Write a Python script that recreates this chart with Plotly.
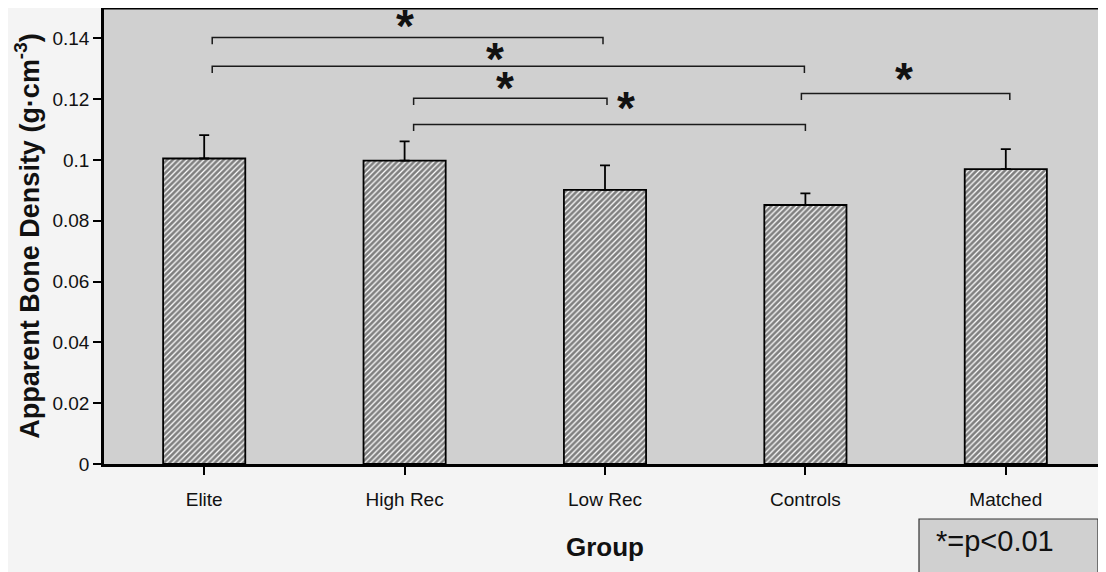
import plotly.graph_objects as go

groups = ["Elite", "High Rec", "Low Rec", "Controls", "Matched"]
density = [0.1005, 0.0998, 0.0902, 0.0852, 0.0970]
sd_upper = [0.0077, 0.0063, 0.0080, 0.0038, 0.0066]

# significance comparisons: (from group index, to group index, bracket level)
comparisons = [(0, 2, 0.1403), (0, 3, 0.1308), (1, 2, 0.1203), (1, 3, 0.1117), (3, 4, 0.1219)]
star_pos = [(1.003, 0.1459), (1.452, 0.1352), (1.502, 0.1255), (2.106, 0.1190), (3.493, 0.1285)]
bracket_offsets = [(0.04, -0.01), (0.04, -0.005), (0.045, 0.01), (0.045, 0.0), (-0.02, 0.02)]

ytick_vals = [0, 0.02, 0.04, 0.06, 0.08, 0.1, 0.12, 0.14]
ytick_text = ["0", "0.02", "0.04", "0.06", "0.08", "0.1", "0.12", "0.14"]

FONT = "Liberation Sans, Arial, sans-serif"

# page offset of the body margin (8px) is compensated in the margins
L, T, R = 96, 0, 8
W, H = 1106, 572
PLOT_BOTTOM = 456
B = H - PLOT_BOTTOM
PW = W - L - R
PH = PLOT_BOTTOM - T


def px_to_paper(sx, sy):
    fx, fy = sx - 8, sy - 8
    return (fx - L) / PW, (PLOT_BOTTOM - fy) / PH


fig = go.Figure()
fig.add_trace(go.Bar(
    x=list(range(len(groups))), y=density, width=0.41,
    marker=dict(color="white", line=dict(color="black", width=1.8),
                pattern=dict(shape="/", fgcolor="black", bgcolor="white", size=4, solidity=0.68)),
    error_y=dict(type="data", array=sd_upper, arrayminus=[0] * len(groups), symmetric=False,
                 color="black", thickness=1.8, width=5),
    showlegend=False, hoverinfo="skip",
))

tick_drop = 0.0022
for (a, b, lvl), (oa, ob) in zip(comparisons, bracket_offsets):
    xa, xb = a + oa, b + ob
    fig.add_trace(go.Scatter(
        x=[xa, xa, xb, xb], y=[lvl - tick_drop, lvl, lvl, lvl - tick_drop],
        mode="lines", line=dict(color="#1a1a1a", width=1.5),
        showlegend=False, hoverinfo="skip",
    ))

for sx, sy in star_pos:
    fig.add_annotation(x=sx, y=sy, text="<b>*</b>", showarrow=False,
                       font=dict(family=FONT, size=46, color="#111111"),
                       yanchor="middle", yshift=-6)

# significance key box
bx0, by0 = px_to_paper(919, 519)
bx1, by1 = px_to_paper(1098, 585)
tx, ty = px_to_paper(995, 541)
fig.add_annotation(xref="paper", yref="paper", x=tx, y=ty, text="*=p<0.01", showarrow=False,
                   font=dict(family=FONT, size=29, color="#111111"),
                   xanchor="center", yanchor="middle")

fig.update_layout(
    width=W, height=H,
    margin=dict(l=L, r=R, t=T, b=B),
    paper_bgcolor="#f4f4f4", plot_bgcolor="#d0d0d0",
    font=dict(family=FONT, color="#111111"),
    xaxis=dict(
        range=[-0.5, 4.5], tickmode="array", tickvals=list(range(len(groups))), ticktext=groups,
        tickson="boundaries", ticks="outside", ticklen=8, tickwidth=1.5, tickcolor="black",
        showline=True, linecolor="black", linewidth=3, mirror=False,
        showgrid=False, zeroline=False, ticklabelstandoff=8,
        tickfont=dict(size=19, family=FONT),
        title=dict(text="<b>Group</b>", font=dict(size=26, family=FONT), standoff=30),
    ),
    yaxis=dict(
        range=[0, 0.15], tickmode="array", tickvals=ytick_vals, ticktext=ytick_text,
        ticks="outside", ticklen=8, tickwidth=1.5, tickcolor="black",
        showline=True, linecolor="black", linewidth=2.5,
        showgrid=False, zeroline=False,
        tickfont=dict(size=19, family=FONT),
        title=dict(text="<b>Apparent Bone Density (g·cm<sup>-3</sup>)</b>",
                   font=dict(size=27, family=FONT), standoff=6),
    ),
    shapes=[
        dict(type="line", xref="paper", yref="paper", x0=0, x1=1, y0=1, y1=1,
             line=dict(color="black", width=3)),
        dict(type="rect", xref="paper", yref="paper", x0=bx0, x1=bx1, y0=by1, y1=by0,
             fillcolor="#d0d0d0", line=dict(color="#333333", width=1.2), layer="below"),
    ],
)

fig.write_html("out.html")
